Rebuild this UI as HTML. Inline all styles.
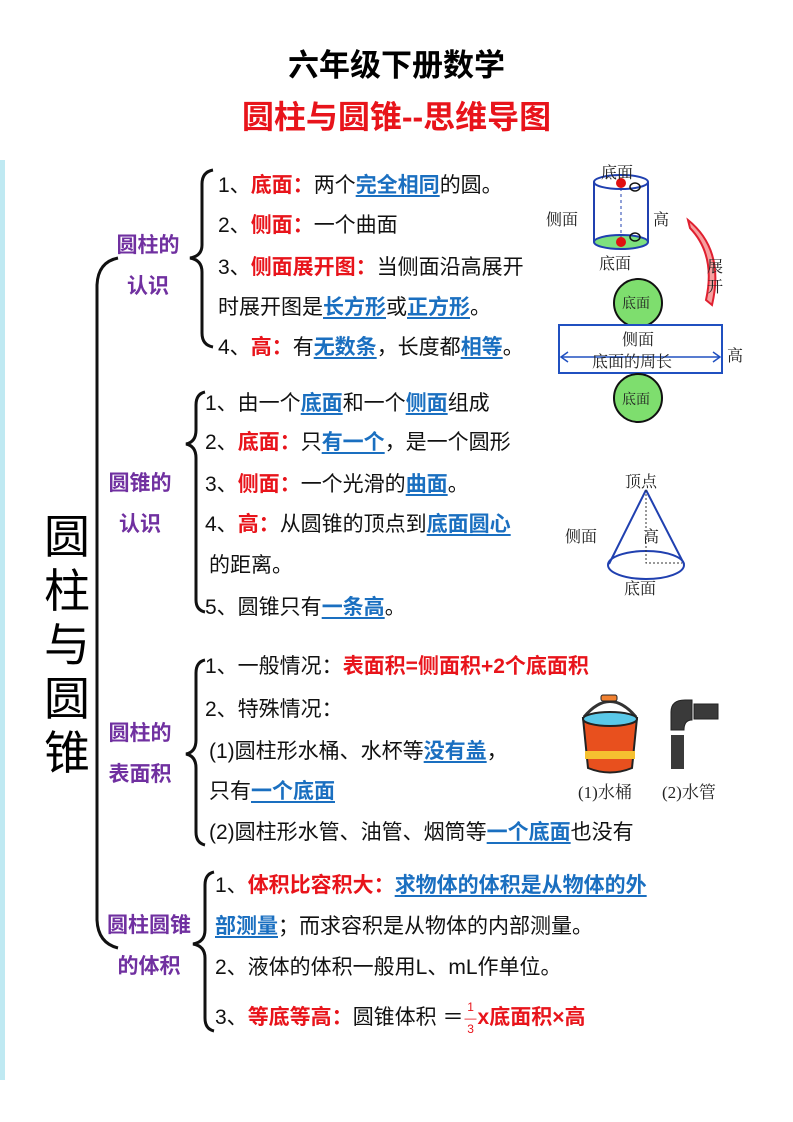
<!DOCTYPE html>
<html><head><meta charset="utf-8"><style>
body{margin:0;background:#fff}
#p{position:relative;width:793px;height:1122px;overflow:hidden;font-family:"Liberation Sans","Noto Sans CJK SC",sans-serif;background:#fff}
.t{position:absolute;font-size:21px;white-space:nowrap;color:#111;line-height:26px}
.r{color:#e8141b;font-weight:bold}
.b{color:#1a6fc0;font-weight:bold;text-decoration:underline;text-underline-offset:3px}
.rb{color:#e8141b;font-weight:bold}
.lab{position:absolute;color:#7030a0;font-weight:bold;font-size:21px;line-height:41px;text-align:center;white-space:nowrap}
.s{position:absolute;font-family:"Liberation Serif","Noto Serif CJK SC",serif;font-size:16px;color:#222;white-space:nowrap}
</style></head><body><div id="p">
<div style="position:absolute;left:0;top:160px;width:5px;height:920px;background:#bfe9f2"></div>
<div style="position:absolute;left:0;width:793px;top:40px;text-align:center;font-size:31px;font-weight:bold;color:#000">六年级下册数学</div>
<div style="position:absolute;left:0;width:793px;top:92px;text-align:center;font-size:32px;font-weight:bold;color:#e8141b">圆柱与圆锥--思维导图</div>

<svg style="position:absolute;left:0;top:0" width="793" height="1122" fill="none" stroke="#111" stroke-width="3">
<path d="M118 258 Q98 262 97 285 L97 920 Q98 943 118 948"/>
<path d="M213 170 Q202 172 202 184 L202 245 Q202 256 190 258 Q202 260 202 272 L202 333 Q202 345 213 347"/>
<path d="M205 392 Q196 394 196 405 L196 430 Q196 442 186 444 Q196 446 196 458 L196 600 Q196 610 205 612"/>
<path d="M205 660 Q196 662 196 673 L196 740 Q196 752 186 754 Q196 756 196 768 L196 832 Q196 843 205 845"/>
<path d="M214 872 Q205 874 205 885 L205 930 Q205 942 193 944 Q205 946 205 958 L205 1018 Q205 1029 214 1031"/>
</svg>

<div style="position:absolute;left:44px;top:510px;font-size:46px;line-height:54px;width:52px;color:#000">圆<br>柱<br>与<br>圆<br>锥</div>

<div class="lab" style="left:106px;top:225px;width:84px">圆柱的<br>认识</div>
<div class="t" style="left:218px;top:173px">1、<span class="r">底面：</span>两个<span class="b">完全相同</span>的圆。</div>
<div class="t" style="left:218px;top:213px">2、<span class="r">侧面：</span>一个曲面</div>
<div class="t" style="left:218px;top:255px">3、<span class="r">侧面展开图：</span>当侧面沿高展开</div>
<div class="t" style="left:218px;top:295px">时展开图是<span class="b">长方形</span>或<span class="b">正方形</span>。</div>
<div class="t" style="left:218px;top:335px">4、<span class="r">高：</span>有<span class="b">无数条</span>，长度都<span class="b">相等</span>。</div>

<div class="lab" style="left:98px;top:463px;width:84px">圆锥的<br>认识</div>
<div class="t" style="left:205px;top:391px">1、由一个<span class="b">底面</span>和一个<span class="b">侧面</span>组成</div>
<div class="t" style="left:205px;top:430px">2、<span class="r">底面：</span>只<span class="b">有一个</span>，是一个圆形</div>
<div class="t" style="left:205px;top:472px">3、<span class="r">侧面：</span>一个光滑的<span class="b">曲面</span>。</div>
<div class="t" style="left:205px;top:512px">4、<span class="r">高：</span>从圆锥的顶点到<span class="b">底面圆心</span></div>
<div class="t" style="left:209px;top:553px">的距离。</div>
<div class="t" style="left:205px;top:595px">5、圆锥只有<span class="b">一条高</span>。</div>

<div class="lab" style="left:98px;top:713px;width:84px">圆柱的<br>表面积</div>
<div class="t" style="left:205px;top:654px">1、一般情况：<span class="rb">表面积=侧面积+2个底面积</span></div>
<div class="t" style="left:205px;top:697px">2、特殊情况：</div>
<div class="t" style="left:209px;top:739px">(1)圆柱形水桶、水杯等<span class="b">没有盖</span>，</div>
<div class="t" style="left:209px;top:779px">只有<span class="b">一个底面</span></div>
<div class="t" style="left:209px;top:820px">(2)圆柱形水管、油管、烟筒等<span class="b">一个底面</span>也没有</div>

<div class="lab" style="left:96px;top:905px;width:106px">圆柱圆锥<br>的体积</div>
<div class="t" style="left:215px;top:873px">1、<span class="r">体积比容积大：</span><span class="b">求物体的体积是从物体的外</span></div>
<div class="t" style="left:215px;top:914px"><span class="b">部测量</span>；而求容积是从物体的内部测量。</div>
<div class="t" style="left:215px;top:955px">2、液体的体积一般用L、mL作单位。</div>
<div class="t" style="left:215px;top:1002px">3、<span class="r">等底等高：</span>圆锥体积 ＝<span style="display:inline-block;vertical-align:middle;color:#e8141b;font-size:12px;line-height:11px;text-align:center;margin:0 1px">1<br>—<br>3</span><span class="r">x底面积×高</span></div>

<svg style="position:absolute;left:0;top:0" width="793" height="1122" fill="none">
<ellipse cx="621" cy="182" rx="27" ry="7" stroke="#2040b0" stroke-width="2"/>
<line x1="594" y1="182" x2="594" y2="242" stroke="#2040b0" stroke-width="2"/>
<line x1="648" y1="182" x2="648" y2="242" stroke="#2040b0" stroke-width="2"/>
<ellipse cx="621" cy="242" rx="27" ry="7" fill="#7ee07e" stroke="#2040b0" stroke-width="2"/>
<line x1="621" y1="182" x2="621" y2="242" stroke="#2040b0" stroke-dasharray="3,3"/>
<circle cx="621" cy="183" r="5" fill="#e01010"/><circle cx="621" cy="242" r="5" fill="#e01010"/>
<ellipse cx="635" cy="187" rx="5" ry="4" stroke="#111" stroke-width="1.5"/>
<ellipse cx="635" cy="237" rx="5" ry="4" stroke="#111" stroke-width="1.5"/>
<path d="M688 220 Q725 250 712 305 L706 300 Q716 255 690 228 Z" fill="#f6a0a0" stroke="#e02030" stroke-width="2"/>
<circle cx="638" cy="303" r="24" fill="#7ede6e" stroke="#111" stroke-width="2"/>
<rect x="559" y="325" width="163" height="48" stroke="#2050c0" stroke-width="2" fill="#fff"/>
<line x1="562" y1="357" x2="719" y2="357" stroke="#2050c0" stroke-width="1.5"/>
<path d="M568 352 L561 357 L568 362 M713 352 L720 357 L713 362" stroke="#2050c0" stroke-width="1.5"/>
<circle cx="638" cy="398" r="24" fill="#7ede6e" stroke="#111" stroke-width="2"/>
<path d="M646 490 L609 564 M646 490 L684 564" stroke="#2040b0" stroke-width="2"/>
<ellipse cx="646" cy="565" rx="38" ry="14" stroke="#2040b0" stroke-width="2"/>
<path d="M646 490 L646 563 L682 563" stroke="#333" stroke-dasharray="2,2"/>
<path d="M584 717 Q610 686 636 717" stroke="#333" stroke-width="3"/>
<rect x="601" y="695" width="16" height="6" rx="2" fill="#f08030" stroke="#222"/>
<path d="M583 718 L588 768 Q610 777 632 768 L637 718 Z" fill="#e8501e" stroke="#222" stroke-width="2"/>
<ellipse cx="610" cy="719" rx="27" ry="7" fill="#5ac8e8" stroke="#222" stroke-width="2"/>
<rect x="585" y="751" width="50" height="8" fill="#f5c030"/>
<rect x="694" y="704" width="24" height="15" fill="#3a3a3a" stroke="#222"/>
<path d="M671 730 L671 712 Q671 700 685 700 L692 700 L692 720 Q684 720 684 730 Z" fill="#3a3a3a" stroke="#222"/>
<rect x="671" y="735" width="13" height="34" fill="#3a3a3a"/>
</svg>
<div class="s" style="left:601px;top:160px">底面</div>
<div class="s" style="left:546px;top:207px">侧面</div>
<div class="s" style="left:653px;top:207px">高</div>
<div class="s" style="left:599px;top:251px">底面</div>
<div class="s" style="left:707px;top:254px">展</div>
<div class="s" style="left:707px;top:274px">开</div>
<div class="s" style="left:622px;top:293px;font-size:14px">底面</div>
<div class="s" style="left:622px;top:327px">侧面</div>
<div class="s" style="left:592px;top:349px">底面的周长</div>
<div class="s" style="left:727px;top:343px">高</div>
<div class="s" style="left:622px;top:389px;font-size:14px">底面</div>
<div class="s" style="left:625px;top:469px">顶点</div>
<div class="s" style="left:565px;top:524px">侧面</div>
<div class="s" style="left:643px;top:524px">高</div>
<div class="s" style="left:624px;top:576px">底面</div>
<div class="s" style="left:578px;top:778px;font-size:17px">(1)水桶</div>
<div class="s" style="left:662px;top:778px;font-size:17px">(2)水管</div>
</div></body></html>
